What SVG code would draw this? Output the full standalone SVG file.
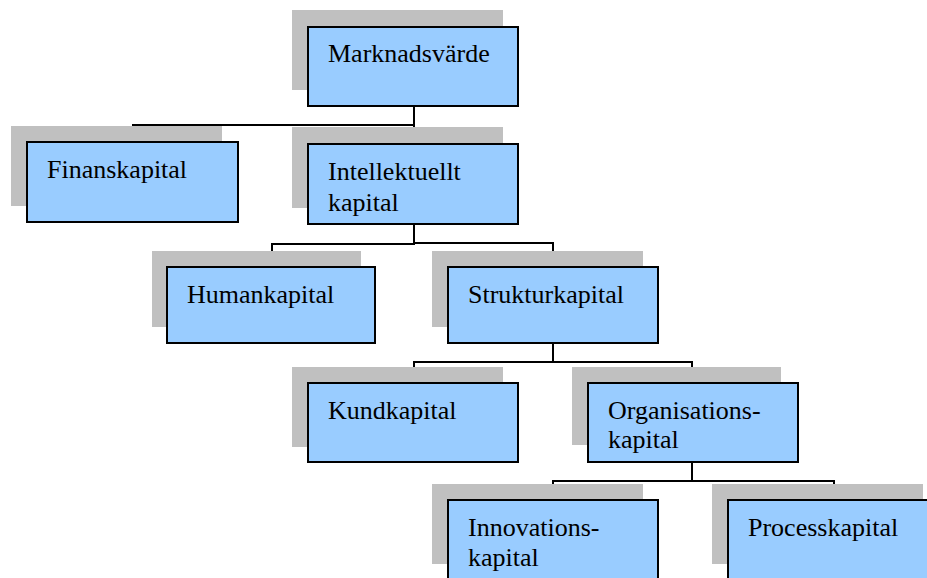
<svg xmlns="http://www.w3.org/2000/svg" width="927" height="578" viewBox="0 0 927 578">
  <style>
    .shadow { fill: #c0c0c0; }
    .box { fill: #99ccff; stroke: #000; stroke-width: 2; }
    .label { font-family: 'Liberation Serif', serif; font-size: 26px; fill: #000; }
    .conn { fill: none; stroke: #000; stroke-width: 2; }
  </style>
  <rect width="927" height="578" fill="#fff"/>

  <!-- connectors -->
  <g id="connectors" class="conn">
    <polyline points="414,106 414,144"/>
    <polyline points="414,125 133,125 133,142"/>
    <polyline points="414,224 414,244 272,244 272,267"/>
    <polyline points="414,243 553,243 553,267"/>
    <polyline points="553,343 553,362"/>
    <polyline points="414,383 414,362 692,362 692,383"/>
    <polyline points="692,462 692,481"/>
    <polyline points="553,500 553,481 834,481 834,500"/>
  </g>

  <g id="marknadsvarde">
    <rect class="shadow" x="292" y="10" width="211" height="80"/>
    <rect class="box" x="308" y="27" width="210" height="79"/>
    <text class="label" x="328" y="62">Marknadsvärde</text>
  </g>

  <g id="finanskapital">
    <rect class="shadow" x="11" y="126" width="211" height="80"/>
    <rect class="box" x="27" y="142" width="211" height="80"/>
    <text class="label" x="47" y="178">Finanskapital</text>
  </g>

  <g id="intellektuellt-kapital">
    <rect class="shadow" x="292" y="127" width="211" height="81"/>
    <rect class="box" x="308" y="144" width="210" height="80"/>
    <text class="label" x="328" y="180">Intellektuellt</text>
    <text class="label" x="328" y="211">kapital</text>
  </g>

  <g id="humankapital">
    <rect class="shadow" x="152" y="251" width="209" height="76"/>
    <rect class="box" x="167" y="267" width="208" height="76"/>
    <text class="label" x="187" y="303">Humankapital</text>
  </g>

  <g id="strukturkapital">
    <rect class="shadow" x="432" y="251" width="211" height="76"/>
    <rect class="box" x="448" y="267" width="210" height="76"/>
    <text class="label" x="468" y="303">Strukturkapital</text>
  </g>

  <g id="kundkapital">
    <rect class="shadow" x="292" y="367" width="211" height="80"/>
    <rect class="box" x="308" y="383" width="210" height="79"/>
    <text class="label" x="328" y="419">Kundkapital</text>
  </g>

  <g id="organisationskapital">
    <rect class="shadow" x="572" y="367" width="209" height="78"/>
    <rect class="box" x="588" y="383" width="210" height="79"/>
    <text class="label" x="608" y="419">Organisations-</text>
    <text class="label" x="608" y="448">kapital</text>
  </g>

  <g id="innovationskapital">
    <rect class="shadow" x="432" y="484" width="211" height="80"/>
    <rect class="box" x="448" y="500" width="210" height="90"/>
    <text class="label" x="468" y="536">Innovations-</text>
    <text class="label" x="468" y="566">kapital</text>
  </g>

  <g id="processkapital">
    <rect class="shadow" x="712" y="484" width="211" height="80"/>
    <rect class="box" x="728" y="500" width="210" height="90"/>
    <text class="label" x="748" y="536">Processkapital</text>
  </g>
</svg>
